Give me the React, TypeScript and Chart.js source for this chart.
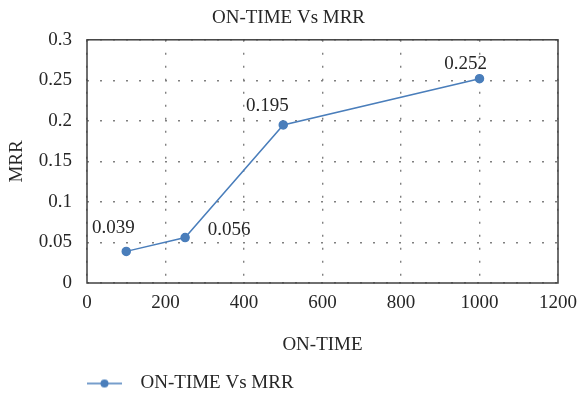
import React, { useEffect, useRef } from "react";
import { Chart, registerables } from "chart.js";

Chart.register(...registerables);

// Machining results: pulse ON-TIME against material removal rate
const onTime = [100, 250, 500, 1000];
const mrr = [0.039, 0.056, 0.195, 0.252];
const valueLabels = ["0.039", "0.056", "0.195", "0.252"];
const seriesName = "ON-TIME Vs MRR";
const chartTitle = "ON-TIME Vs MRR";
const xTitle = "ON-TIME";
const yTitle = "MRR";

// Where each value label sits relative to its marker (px)
const labelOffsets = [
  [-13, -23],
  [44, -8],
  [-16, -19],
  [-14, -15],
];

const SERIES_COLOR = "#4a7ebb";
const TEXT_COLOR = "#262626";
const FONT_FAMILY = "'Liberation Serif', 'Times New Roman', serif";
const FONT_SIZE = 19;

// Legend symbol: short line with a dot in the middle
function makeLegendSymbol(): HTMLCanvasElement {
  const c = document.createElement("canvas");
  c.width = 44;
  c.height = 10;
  const g = c.getContext("2d")!;
  g.strokeStyle = SERIES_COLOR;
  g.lineWidth = 1.5;
  g.beginPath();
  g.moveTo(0, 5);
  g.lineTo(35, 5);
  g.stroke();
  g.fillStyle = SERIES_COLOR;
  g.beginPath();
  g.arc(17.5, 5, 4, 0, Math.PI * 2);
  g.fill();
  return c;
}

const plotFrame = {
  id: "plotFrame",
  afterDraw(chart: any) {
    const { ctx, chartArea } = chart;
    ctx.save();
    ctx.strokeStyle = "#404040";
    ctx.lineWidth = 1.5;
    ctx.strokeRect(
      chartArea.left,
      chartArea.top,
      chartArea.right - chartArea.left,
      chartArea.bottom - chartArea.top
    );
    ctx.restore();
  },
};

// Line the legend up under the plot's left edge, a little lower
const legendPlacement = {
  id: "legendPlacement",
  afterLayout(chart: any) {
    const lg = chart.legend;
    if (!lg) return;
    const padding = lg.options.labels.padding;
    const dx = chart.chartArea.left - padding - lg.left;
    lg.left += dx;
    lg.right += dx;
    lg.top += 7;
    lg.bottom += 7;
  },
};

const valueTags = {
  id: "valueTags",
  afterDatasetsDraw(chart: any) {
    const { ctx } = chart;
    const meta = chart.getDatasetMeta(0);
    ctx.save();
    ctx.font = `${FONT_SIZE}px ${FONT_FAMILY}`;
    ctx.fillStyle = TEXT_COLOR;
    ctx.textAlign = "center";
    ctx.textBaseline = "middle";
    meta.data.forEach((pt: any, i: number) => {
      const [dx, dy] = labelOffsets[i];
      ctx.fillText(valueLabels[i], pt.x + dx, pt.y + dy);
    });
    ctx.restore();
  },
};

const plainNumber = (v: any) => String(Math.round(Number(v) * 1000) / 1000);

export default function App() {
  const canvasRef = useRef<HTMLCanvasElement | null>(null);

  useEffect(() => {
    document.body.style.margin = "0";
    const canvas = canvasRef.current!;
    const gridColor = "#808080";
    const font = { family: FONT_FAMILY, size: FONT_SIZE };
    const chart = new Chart(canvas, {
      type: "line",
      data: {
        datasets: [
          {
            label: seriesName,
            data: onTime.map((x, i) => ({ x, y: mrr[i] })),
            borderColor: SERIES_COLOR,
            backgroundColor: SERIES_COLOR,
            borderWidth: 1.5,
            pointRadius: 4,
            pointHoverRadius: 4,
            pointBackgroundColor: SERIES_COLOR,
            pointBorderColor: SERIES_COLOR,
            tension: 0,
          },
        ],
      },
      options: {
        animation: false,
        responsive: false,
        devicePixelRatio: 1,
        layout: { padding: { left: 0, right: 0, top: 0, bottom: 0 } },
        plugins: {
          title: {
            display: true,
            text: chartTitle,
            color: TEXT_COLOR,
            font: { ...font, weight: "normal" },
            padding: { top: 7, bottom: 10 },
          },
          legend: {
            display: true,
            position: "bottom",
            align: "start",
            labels: {
              usePointStyle: true,
              pointStyle: makeLegendSymbol() as any,
              pointStyleWidth: 44,
              color: TEXT_COLOR,
              font,
              padding: 10,
            },
          },
          tooltip: { enabled: false },
        },
        scales: {
          x: {
            type: "linear",
            min: 0,
            max: 1200,
            ticks: {
              stepSize: 200,
              color: TEXT_COLOR,
              font,
              padding: 9,
              maxRotation: 0,
              callback: plainNumber,
            },
            grid: {
              color: gridColor,
              lineWidth: 1.4,
              drawTicks: false,
            },
            border: { display: false, dash: [2, 11] },
            title: {
              display: true,
              text: xTitle,
              color: TEXT_COLOR,
              font,
              padding: { top: 14, bottom: 1 },
            },
            afterFit(scale: any) {
              scale.height = 74;
              scale.paddingRight = 19;
            },
          },
          y: {
            type: "linear",
            min: 0,
            max: 0.3,
            ticks: {
              stepSize: 0.05,
              color: TEXT_COLOR,
              font,
              padding: 15,
              callback: plainNumber,
            },
            grid: {
              color: gridColor,
              lineWidth: 1.4,
              drawTicks: false,
            },
            border: { display: false, dash: [2, 11] },
            title: {
              display: true,
              text: yTitle,
              color: TEXT_COLOR,
              font,
              padding: { top: 6, bottom: 0 },
            },
            afterFit(scale: any) {
              scale.width = 87;
            },
          },
        },
      },
      plugins: [plotFrame, valueTags, legendPlacement],
    });
    return () => chart.destroy();
  }, []);

  return (
    <div style={{ width: 577, height: 396 }}>
      <canvas ref={canvasRef} width={577} height={396} />
    </div>
  );
}
